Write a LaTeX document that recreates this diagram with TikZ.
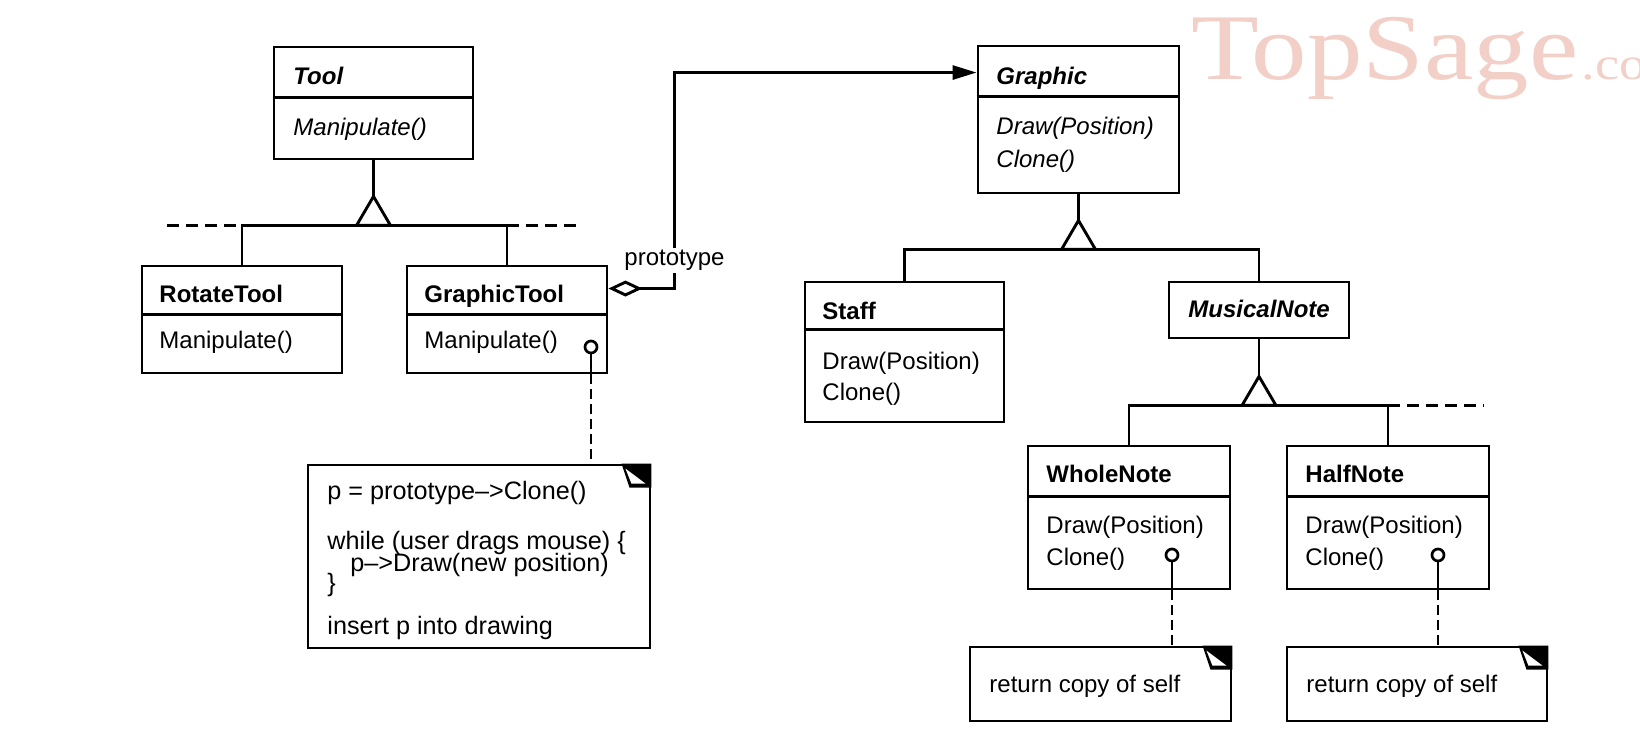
\documentclass[tikz,border=0pt]{standalone}
\usepackage{fontspec}
\setmainfont{Liberation Sans}
\newfontfamily\wmfont{Liberation Serif}
\usetikzlibrary{arrows.meta,calc}
\definecolor{wm}{RGB}{242,208,200}
\newcommand\dogear[1]{%
  \fill ($(#1.north east)+(-30,0)$) -- (#1.north east) -- ($(#1.north east)+(0,24)$) -- ($(#1.north east)+(-22,24)$) -- cycle;
  \fill[white] ($(#1.north east)+(-26,5)$) -- ($(#1.north east)+(-20,20)$) -- ($(#1.north east)+(-6,20)$) -- cycle;}
\begin{document}
\begin{tikzpicture}[x=0.5pt,y=-0.5pt, line width=1.45pt,
  box/.style={draw, inner sep=0pt, line width=1.45pt},
  lbl/.style={anchor=base west, inner sep=0pt, font=\fontsize{12}{12}\selectfont},
  ntxt/.style={lbl, font=\fontsize{12.6}{12.6}\selectfont},
  ttl/.style={lbl, font=\fontsize{12}{12}\selectfont\bfseries},
  attl/.style={lbl, font=\fontsize{12}{12}\selectfont\bfseries\itshape},
  aop/.style={lbl, font=\fontsize{12}{12}\selectfont\itshape},
  dsh/.style={dash pattern=on 6pt off 3.5pt},
  ddsh/.style={dash pattern=on 5pt off 2.5pt},
  pin/.style={circle, draw, fill=white, inner sep=0pt, minimum size=6pt, line width=1.35pt},
  wmark/.style={anchor=base west, inner sep=0pt, text=wm, xscale=1.18, transform shape}]
\useasboundingbox (0,0) rectangle (1640,742);
\fill[white] (0,0) rectangle (1640,742);

% watermark
\begin{scope}
\clip (0,0) rectangle (1640,742);
\node[wmark, font=\wmfont\fontsize{47}{47}\selectfont] (wm1) at (1190,80) {TopSage};
\node[wmark, font=\wmfont\fontsize{23}{23}\selectfont] (wm2) at (wm1.base east) {.com};
\end{scope}

% class boxes
\node[box, minimum width=99.5pt, minimum height=56pt] (tool) at (373.5,103) {};
\node[box, minimum width=100pt, minimum height=53.5pt] (rot) at (242,319.5) {};
\node[box, minimum width=100pt, minimum height=53.5pt] (gtool) at (507,319.5) {};
\node[box, minimum width=100.5pt, minimum height=73.5pt] (graphic) at (1078.5,119.5) {};
\node[box, minimum width=99.5pt, minimum height=70pt] (staff) at (904.5,352) {};
\node[box, minimum width=90pt, minimum height=28pt] (mnote) at (1259,310) {};
\node[box, minimum width=101pt, minimum height=71.5pt] (whole) at (1129,517.5) {};
\node[box, minimum width=101pt, minimum height=71.5pt] (half) at (1388,517.5) {};

% separators
\draw ($(tool.north west)+(0,52)$) -- ($(tool.north east)+(0,52)$);
\draw ($(rot.north west)+(0,50)$) -- ($(rot.north east)+(0,50)$);
\draw ($(gtool.north west)+(0,50)$) -- ($(gtool.north east)+(0,50)$);
\draw ($(graphic.north west)+(0,52)$) -- ($(graphic.north east)+(0,52)$);
\draw ($(staff.north west)+(0,49)$) -- ($(staff.north east)+(0,49)$);
\draw ($(whole.north west)+(0,52)$) -- ($(whole.north east)+(0,52)$);
\draw ($(half.north west)+(0,52)$) -- ($(half.north east)+(0,52)$);

% class texts
\node[attl] (toolN) at (292,85) {Tool};
\node[aop] (toolM) at (292,136) {Manipulate()};
\node[ttl] (rotN) at (158,303) {RotateTool};
\node[lbl] (rotM) at (158,349) {Manipulate()};
\node[ttl] (gtoolN) at (423,303) {GraphicTool};
\node[lbl] (gtoolM) at (423,349) {Manipulate()};
\node[attl] (graphicN) at (995,85) {Graphic};
\node[aop] (graphicM1) at (995,135) {Draw(Position)};
\node[aop] (graphicM2) at (995,168) {Clone()};
\node[ttl] (staffN) at (821,320) {Staff};
\node[lbl] (staffM1) at (821,370) {Draw(Position)};
\node[lbl] (staffM2) at (821,401) {Clone()};
\node[attl] (mnoteN) at (1187,318) {MusicalNote};
\node[ttl] (wholeN) at (1045,483) {WholeNote};
\node[lbl] (wholeM1) at (1045,534) {Draw(Position)};
\node[lbl] (wholeM2) at (1045,566) {Clone()};
\node[ttl] (halfN) at (1304,483) {HalfNote};
\node[lbl] (halfM1) at (1304,534) {Draw(Position)};
\node[lbl] (halfM2) at (1304,566) {Clone()};

% notes
\node[box, minimum width=171pt, minimum height=91.5pt] (note1) at (479,556.5) {};
\node[box, minimum width=130.5pt, minimum height=37pt] (note2) at (1100.5,684) {};
\node[box, minimum width=130pt, minimum height=37pt] (note3) at (1417,684) {};
\dogear{note1}
\dogear{note2}
\dogear{note3}
\node[ntxt] (n1a) at (326,500) {p = prototype-->Clone()};
\node[ntxt] (n1b) at (326,550) {while (user drags mouse) \{};
\node[ntxt] (n1c) at (349,572) {p-->Draw(new position)};
\node[ntxt] (n1d) at (326,592) {\}};
\node[ntxt] (n1e) at (326,635) {insert p into drawing};
\node[lbl] (n2a) at (988,693) {return copy of self};
\node[lbl] (n3a) at (1305,693) {return copy of self};

% Tool hierarchy
\draw (tool.south) -- ++(0,36) coordinate (tApex);
\coordinate (tBar) at ($(tApex)+(0,29)$);
\draw (rot.north) |- (tBar) -| (gtool.north);
\draw[dsh] ($(rot.north |- tBar)+(-75,0)$) -- (rot.north |- tBar);
\draw[dsh] (gtool.north |- tBar) -- ++(76,0);
\draw[fill=white] (tApex) -- ++(-17,29) -- ++(34,0) -- cycle;

% Graphic hierarchy
\draw (graphic.south) -- ++(0,26) coordinate (gApex);
\coordinate (gBar) at ($(gApex)+(0,29)$);
\draw (staff.north) |- (gBar) -| (mnote.north);
\draw[fill=white] (gApex) -- ++(-17,29) -- ++(34,0) -- cycle;

% MusicalNote hierarchy
\draw (mnote.south) -- ++(0,37) coordinate (mApex);
\coordinate (mBar) at ($(mApex)+(0,29)$);
\draw (whole.north) |- (mBar) -| (half.north);
\draw[dsh] (half.north |- mBar) -- ++(96,0);
\draw[fill=white] (mApex) -- ++(-17,29) -- ++(34,0) -- cycle;

% aggregation GraphicTool -> Graphic
\draw[{Diamond[open,length=17pt,width=8pt]}-{Triangle[length=12pt,width=7pt]}]
  ($(gtool.north east)+(0,24)$) -- ++(66,0) |- ($(graphic.north west)+(0,28)$);
\node[lbl, fill=white, inner sep=1pt] (proto) at (621,266) {prototype};

% implementation pins and note links
\node[pin] (p1) at (591,347) {};
\draw (p1.south) -- (p1.south |- gtool.south);
\draw[ddsh] (p1.south |- gtool.south) -- (p1.south |- note1.north);
\node[pin] (p2) at (1172,555) {};
\draw (p2.south) -- (p2.south |- whole.south);
\draw[ddsh] (p2.south |- whole.south) -- (p2.south |- note2.north);
\node[pin] (p3) at (1438,555) {};
\draw (p3.south) -- (p3.south |- half.south);
\draw[ddsh] (p3.south |- half.south) -- (p3.south |- note3.north);
\end{tikzpicture}
\end{document}
